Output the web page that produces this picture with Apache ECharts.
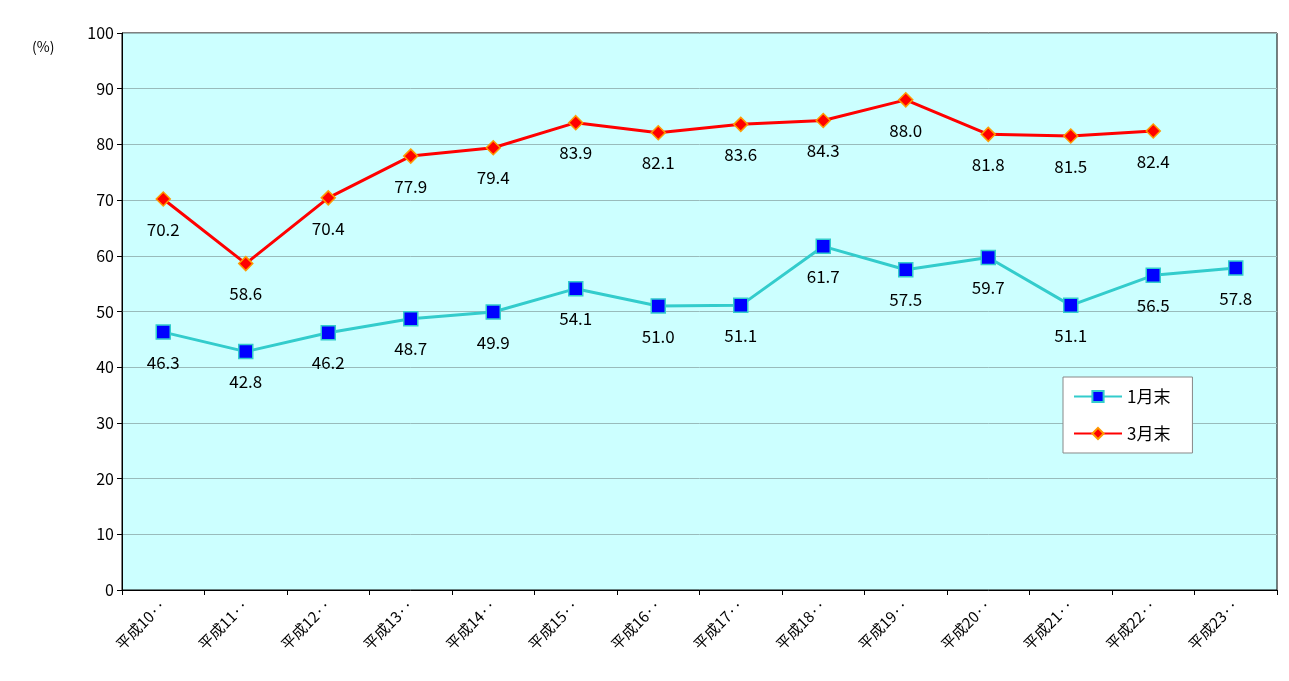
<!DOCTYPE html>
<html><head><meta charset="utf-8">
<script src="https://cdn.jsdelivr.net/npm/echarts@6/dist/echarts.min.js"></script>
<style>html,body{margin:0;padding:0;background:#fff}#c{width:1289px;height:681px}</style>
</head><body><div id="c"></div>
<script>
const categories = ["平成10··","平成11··","平成12··","平成13··","平成14··","平成15··","平成16··","平成17··","平成18··","平成19··","平成20··","平成21··","平成22··","平成23··"];
const jan = [46.3,42.8,46.2,48.7,49.9,54.1,51.0,51.1,61.7,57.5,59.7,51.1,56.5,57.8];
const mar = [70.2,58.6,70.4,77.9,79.4,83.9,82.1,83.6,84.3,88.0,81.8,81.5,82.4,null];
const yTicks = {min:0,max:100,interval:10};
const font = '"Noto Sans CJK JP", sans-serif';
const chart = echarts.init(document.getElementById('c'));
const lbl = {show:true,position:'bottom',distance:14,color:'#000',fontSize:17,fontFamily:font,formatter:p=>p.value.toFixed(1)};
chart.setOption({
  animation:false,
  grid:{left:122,right:12,top:33,bottom:91,show:true,backgroundColor:'#ccffff',borderColor:'#000',borderWidth:1},
  graphic:[{type:'text',left:32,top:40,style:{text:'(%)',fontSize:14,fontFamily:font,fill:'#000'}}],
  xAxis:{type:'category',data:categories,boundaryGap:true,
    axisLine:{lineStyle:{color:'#000'}},axisTick:{show:true,lineStyle:{color:'#000'}},
    axisLabel:{rotate:45,interval:0,fontSize:15,fontFamily:font,color:'#000',margin:12}},
  yAxis:{type:'value',min:yTicks.min,max:yTicks.max,interval:yTicks.interval,
    axisLine:{show:true,lineStyle:{color:'#000'}},axisTick:{show:true,lineStyle:{color:'#000'}},
    axisLabel:{fontSize:16,fontFamily:font,color:'#000'},
    splitLine:{lineStyle:{color:'#99bbbb'}}},
  legend:{orient:'vertical',left:1063,top:377,itemWidth:48,itemHeight:14,itemGap:20,
    backgroundColor:'#fff',borderColor:'#888',borderWidth:1,padding:[11,22,11,10],
    textStyle:{fontSize:17,fontFamily:font,color:'#000'},data:['1月末','3月末']},
  series:[
    {name:'1月末',type:'line',data:jan,symbol:'rect',symbolSize:14,
     lineStyle:{color:'#33cccc',width:3},itemStyle:{color:'#0000ff',borderColor:'#33cccc',borderWidth:1.5},label:lbl},
    {name:'3月末',type:'line',data:mar,symbol:'diamond',symbolSize:14,
     lineStyle:{color:'#ff0000',width:3},itemStyle:{color:'#ff0000',borderColor:'#ff9900',borderWidth:1.5},label:lbl}
  ]
});
</script></body></html>
